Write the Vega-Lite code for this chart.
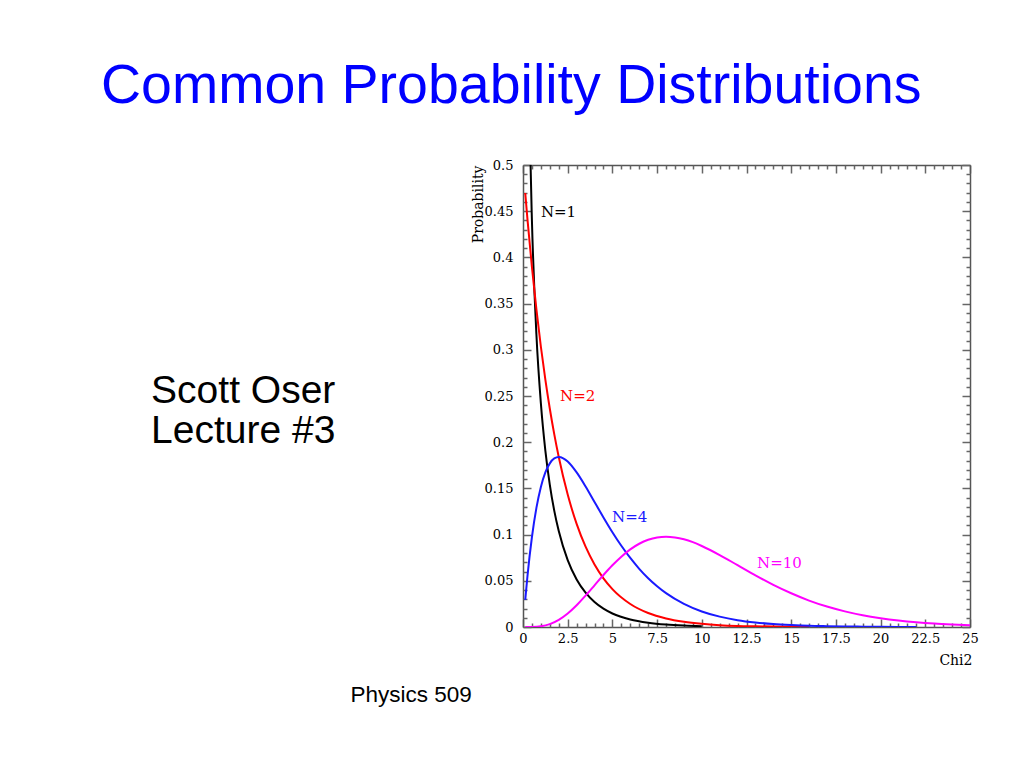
{
  "$schema": "https://vega.github.io/schema/vega-lite/v6.json",
  "width": 447,
  "height": 462,
  "autosize": {"type": "none"},
  "padding": {"left": 523, "top": 165, "right": 50, "bottom": 139},
  "background": "white",
  "config": {"view": {"stroke": null}},
  "datasets": {
    "curves": [
      {"N": "N=1", "x": 0.25, "p": 0.704},
      {"N": "N=1", "x": 0.375, "p": 0.540},
      {"N": "N=1", "x": 0.5, "p": 0.4394},
      {"N": "N=1", "x": 0.75, "p": 0.3166},
      {"N": "N=1", "x": 1, "p": 0.242},
      {"N": "N=1", "x": 1.25, "p": 0.191},
      {"N": "N=1", "x": 1.5, "p": 0.1539},
      {"N": "N=1", "x": 1.75, "p": 0.1257},
      {"N": "N=1", "x": 2, "p": 0.1038},
      {"N": "N=1", "x": 2.5, "p": 0.0723},
      {"N": "N=1", "x": 3, "p": 0.0514},
      {"N": "N=1", "x": 3.5, "p": 0.0371},
      {"N": "N=1", "x": 4, "p": 0.027},
      {"N": "N=1", "x": 4.5, "p": 0.0198},
      {"N": "N=1", "x": 5, "p": 0.0146},
      {"N": "N=1", "x": 6, "p": 0.0081},
      {"N": "N=1", "x": 7, "p": 0.0046},
      {"N": "N=1", "x": 8, "p": 0.0026},
      {"N": "N=1", "x": 9, "p": 0.0015},
      {"N": "N=1", "x": 10, "p": 0.0009},
      {"N": "N=2", "x": 0.125, "p": 0.4697},
      {"N": "N=2", "x": 0.25, "p": 0.4412},
      {"N": "N=2", "x": 0.5, "p": 0.3894},
      {"N": "N=2", "x": 0.75, "p": 0.3437},
      {"N": "N=2", "x": 1, "p": 0.3033},
      {"N": "N=2", "x": 1.25, "p": 0.2677},
      {"N": "N=2", "x": 1.5, "p": 0.2362},
      {"N": "N=2", "x": 1.75, "p": 0.2085},
      {"N": "N=2", "x": 2, "p": 0.1839},
      {"N": "N=2", "x": 2.5, "p": 0.1433},
      {"N": "N=2", "x": 3, "p": 0.1116},
      {"N": "N=2", "x": 3.5, "p": 0.0869},
      {"N": "N=2", "x": 4, "p": 0.0677},
      {"N": "N=2", "x": 4.5, "p": 0.0527},
      {"N": "N=2", "x": 5, "p": 0.041},
      {"N": "N=2", "x": 6, "p": 0.0249},
      {"N": "N=2", "x": 7, "p": 0.0151},
      {"N": "N=2", "x": 8, "p": 0.0092},
      {"N": "N=2", "x": 9, "p": 0.0056},
      {"N": "N=2", "x": 10, "p": 0.0034},
      {"N": "N=2", "x": 11, "p": 0.002},
      {"N": "N=2", "x": 12, "p": 0.0012},
      {"N": "N=2", "x": 13, "p": 0.0008},
      {"N": "N=2", "x": 14, "p": 0.0005},
      {"N": "N=2", "x": 15, "p": 0.0003},
      {"N": "N=2", "x": 16, "p": 0.0002},
      {"N": "N=4", "x": 0.125, "p": 0.0294},
      {"N": "N=4", "x": 0.25, "p": 0.0552},
      {"N": "N=4", "x": 0.5, "p": 0.0974},
      {"N": "N=4", "x": 0.75, "p": 0.1289},
      {"N": "N=4", "x": 1, "p": 0.1516},
      {"N": "N=4", "x": 1.25, "p": 0.1673},
      {"N": "N=4", "x": 1.5, "p": 0.1771},
      {"N": "N=4", "x": 1.75, "p": 0.1824},
      {"N": "N=4", "x": 2, "p": 0.1839},
      {"N": "N=4", "x": 2.25, "p": 0.1826},
      {"N": "N=4", "x": 2.5, "p": 0.1791},
      {"N": "N=4", "x": 3, "p": 0.1673},
      {"N": "N=4", "x": 3.5, "p": 0.1521},
      {"N": "N=4", "x": 4, "p": 0.1353},
      {"N": "N=4", "x": 4.5, "p": 0.1186},
      {"N": "N=4", "x": 5, "p": 0.1026},
      {"N": "N=4", "x": 5.5, "p": 0.0879},
      {"N": "N=4", "x": 6, "p": 0.0747},
      {"N": "N=4", "x": 6.5, "p": 0.063},
      {"N": "N=4", "x": 7, "p": 0.0528},
      {"N": "N=4", "x": 7.5, "p": 0.0441},
      {"N": "N=4", "x": 8, "p": 0.0366},
      {"N": "N=4", "x": 9, "p": 0.025},
      {"N": "N=4", "x": 10, "p": 0.0168},
      {"N": "N=4", "x": 11, "p": 0.0112},
      {"N": "N=4", "x": 12, "p": 0.0074},
      {"N": "N=4", "x": 13, "p": 0.0049},
      {"N": "N=4", "x": 14, "p": 0.0032},
      {"N": "N=4", "x": 15, "p": 0.0021},
      {"N": "N=4", "x": 16, "p": 0.0013},
      {"N": "N=4", "x": 17, "p": 0.0009},
      {"N": "N=4", "x": 18, "p": 0.0006},
      {"N": "N=4", "x": 19, "p": 0.0004},
      {"N": "N=4", "x": 20, "p": 0.0002},
      {"N": "N=4", "x": 21, "p": 0.0001},
      {"N": "N=4", "x": 22, "p": 0.0001},
      {"N": "N=10", "x": 0.125, "p": 0},
      {"N": "N=10", "x": 0.5, "p": 0.0001},
      {"N": "N=10", "x": 1, "p": 0.0008},
      {"N": "N=10", "x": 1.5, "p": 0.0031},
      {"N": "N=10", "x": 2, "p": 0.0077},
      {"N": "N=10", "x": 2.5, "p": 0.0146},
      {"N": "N=10", "x": 3, "p": 0.0235},
      {"N": "N=10", "x": 3.5, "p": 0.034},
      {"N": "N=10", "x": 4, "p": 0.0451},
      {"N": "N=10", "x": 4.5, "p": 0.0563},
      {"N": "N=10", "x": 5, "p": 0.0668},
      {"N": "N=10", "x": 5.5, "p": 0.0761},
      {"N": "N=10", "x": 6, "p": 0.084},
      {"N": "N=10", "x": 6.5, "p": 0.0901},
      {"N": "N=10", "x": 7, "p": 0.0944},
      {"N": "N=10", "x": 7.5, "p": 0.0969},
      {"N": "N=10", "x": 8, "p": 0.0977},
      {"N": "N=10", "x": 8.5, "p": 0.0969},
      {"N": "N=10", "x": 9, "p": 0.0949},
      {"N": "N=10", "x": 9.5, "p": 0.0918},
      {"N": "N=10", "x": 10, "p": 0.0877},
      {"N": "N=10", "x": 11, "p": 0.0779},
      {"N": "N=10", "x": 12, "p": 0.0669},
      {"N": "N=10", "x": 13, "p": 0.0559},
      {"N": "N=10", "x": 14, "p": 0.0456},
      {"N": "N=10", "x": 15, "p": 0.0365},
      {"N": "N=10", "x": 16, "p": 0.0286},
      {"N": "N=10", "x": 17, "p": 0.0221},
      {"N": "N=10", "x": 18, "p": 0.0169},
      {"N": "N=10", "x": 19, "p": 0.0127},
      {"N": "N=10", "x": 20, "p": 0.0095},
      {"N": "N=10", "x": 21, "p": 0.007},
      {"N": "N=10", "x": 22, "p": 0.0051},
      {"N": "N=10", "x": 23, "p": 0.0037},
      {"N": "N=10", "x": 24, "p": 0.0027},
      {"N": "N=10", "x": 25, "p": 0.0019}
    ],
    "labels": [
      {"label": "N=1", "x": 1.0, "y": 0.449},
      {"label": "N=2", "x": 2.07, "y": 0.25},
      {"label": "N=4", "x": 4.98, "y": 0.119},
      {"label": "N=10", "x": 13.09, "y": 0.069}
    ]
  },
  "layer": [
    {
      "data": {"name": "curves"},
      "mark": {"type": "line", "clip": true, "strokeWidth": 2, "interpolate": "monotone"},
      "encoding": {
        "x": {
          "field": "x", "type": "quantitative",
          "scale": {"domain": [0, 25], "nice": false, "zero": false},
          "axis": {
            "orient": "bottom", "title": "Chi2",
            "values": [0, 2.5, 5, 7.5, 10, 12.5, 15, 17.5, 20, 22.5, 25],
            "labelExpr": "datum.value + ''", "ticks": false, "grid": false,
            "domain": true, "domainColor": "#555", "domainWidth": 1.5,
            "labelFont": "DejaVu Serif", "labelFontSize": 13, "labelColor": "#000",
            "labelPadding": 5, "labelFlush": false, "labelOverlap": false,
            "titleFont": "DejaVu Serif", "titleFontSize": 14, "titleFontWeight": "normal", "titleColor": "#000",
            "titleAnchor": "end", "titleAlign": "right", "titleBaseline": "middle",
            "titleX": 449, "titleY": 33
          }
        },
        "y": {
          "field": "p", "type": "quantitative",
          "scale": {"domain": [0, 0.5], "nice": false},
          "axis": {
            "orient": "left", "title": "Probability",
            "values": [0, 0.05, 0.1, 0.15, 0.2, 0.25, 0.3, 0.35, 0.4, 0.45, 0.5],
            "labelExpr": "datum.value + ''", "ticks": false, "grid": false,
            "domain": true, "domainColor": "#555", "domainWidth": 1.5,
            "labelFont": "DejaVu Serif", "labelFontSize": 13, "labelColor": "#000",
            "labelPadding": 10, "labelFlush": false, "labelOverlap": false,
            "titleFont": "DejaVu Serif", "titleFontSize": 14, "titleFontWeight": "normal", "titleColor": "#000",
            "titleAnchor": "end", "titleAngle": -90, "titleAlign": "right", "titleBaseline": "middle",
            "titleX": -45, "titleY": 0
          }
        },
        "color": {
          "field": "N", "type": "nominal",
          "scale": {"domain": ["N=1", "N=2", "N=4", "N=10"], "range": ["#000000", "#ff0000", "#1a1aff", "#ff00ff"]},
          "legend": null
        },
        "detail": {"field": "N"}
      }
    },
    {
      "data": {"name": "curves"},
      "mark": {"type": "line", "opacity": 0},
      "encoding": {
        "x": {"field": "x", "type": "quantitative",
          "axis": {"orient": "bottom", "title": null, "labels": false, "domain": false, "grid": false,
            "values": [0, 2.5, 5, 7.5, 10, 12.5, 15, 17.5, 20, 22.5, 25],
            "tickSize": -8, "tickColor": "#666", "tickWidth": 1.5}},
        "y": {"field": "p", "type": "quantitative",
          "axis": {"orient": "left", "title": null, "labels": false, "domain": false, "grid": false,
            "values": [0, 0.05, 0.1, 0.15, 0.2, 0.25, 0.3, 0.35, 0.4, 0.45, 0.5],
            "tickSize": -8, "tickColor": "#666", "tickWidth": 1.5}},
        "detail": {"field": "N"}
      }
    },
    {
      "data": {"name": "curves"},
      "mark": {"type": "line", "opacity": 0},
      "encoding": {
        "x": {"field": "x", "type": "quantitative",
          "axis": {"orient": "bottom", "title": null, "labels": false, "domain": false, "grid": false,
            "values": [0.5, 1, 1.5, 2, 3, 3.5, 4, 4.5, 5.5, 6, 6.5, 7, 8, 8.5, 9, 9.5, 10.5, 11, 11.5, 12, 13, 13.5, 14, 14.5, 15.5, 16, 16.5, 17, 18, 18.5, 19, 19.5, 20.5, 21, 21.5, 22, 23, 23.5, 24, 24.5],
            "tickSize": -4, "tickColor": "#666", "tickWidth": 1.5}},
        "y": {"field": "p", "type": "quantitative",
          "axis": {"orient": "left", "title": null, "labels": false, "domain": false, "grid": false,
            "values": [0.01, 0.02, 0.03, 0.04, 0.06, 0.07, 0.08, 0.09, 0.11, 0.12, 0.13, 0.14, 0.16, 0.17, 0.18, 0.19, 0.21, 0.22, 0.23, 0.24, 0.26, 0.27, 0.28, 0.29, 0.31, 0.32, 0.33, 0.34, 0.36, 0.37, 0.38, 0.39, 0.41, 0.42, 0.43, 0.44, 0.46, 0.47, 0.48, 0.49],
            "tickSize": -4, "tickColor": "#666", "tickWidth": 1.5}},
        "detail": {"field": "N"}
      }
    },
    {
      "data": {"name": "curves"},
      "mark": {"type": "line", "opacity": 0},
      "encoding": {
        "x": {"field": "x", "type": "quantitative",
          "axis": {"orient": "top", "title": null, "labels": false, "domain": true, "domainColor": "#555", "domainWidth": 1.5, "grid": false,
            "values": [0, 2.5, 5, 7.5, 10, 12.5, 15, 17.5, 20, 22.5, 25],
            "tickSize": -8, "tickColor": "#666", "tickWidth": 1.5}},
        "y": {"field": "p", "type": "quantitative",
          "axis": {"orient": "right", "title": null, "labels": false, "domain": true, "domainColor": "#555", "domainWidth": 1.5, "grid": false,
            "values": [0, 0.05, 0.1, 0.15, 0.2, 0.25, 0.3, 0.35, 0.4, 0.45, 0.5],
            "tickSize": -8, "tickColor": "#666", "tickWidth": 1.5}},
        "detail": {"field": "N"}
      }
    },
    {
      "data": {"name": "curves"},
      "mark": {"type": "line", "opacity": 0},
      "encoding": {
        "x": {"field": "x", "type": "quantitative",
          "axis": {"orient": "top", "title": null, "labels": false, "domain": false, "grid": false,
            "values": [0.5, 1, 1.5, 2, 3, 3.5, 4, 4.5, 5.5, 6, 6.5, 7, 8, 8.5, 9, 9.5, 10.5, 11, 11.5, 12, 13, 13.5, 14, 14.5, 15.5, 16, 16.5, 17, 18, 18.5, 19, 19.5, 20.5, 21, 21.5, 22, 23, 23.5, 24, 24.5],
            "tickSize": -4, "tickColor": "#666", "tickWidth": 1.5}},
        "y": {"field": "p", "type": "quantitative",
          "axis": {"orient": "right", "title": null, "labels": false, "domain": false, "grid": false,
            "values": [0.01, 0.02, 0.03, 0.04, 0.06, 0.07, 0.08, 0.09, 0.11, 0.12, 0.13, 0.14, 0.16, 0.17, 0.18, 0.19, 0.21, 0.22, 0.23, 0.24, 0.26, 0.27, 0.28, 0.29, 0.31, 0.32, 0.33, 0.34, 0.36, 0.37, 0.38, 0.39, 0.41, 0.42, 0.43, 0.44, 0.46, 0.47, 0.48, 0.49],
            "tickSize": -4, "tickColor": "#666", "tickWidth": 1.5}},
        "detail": {"field": "N"}
      }
    },
    {
      "data": {"name": "labels"},
      "mark": {"type": "text", "align": "left", "baseline": "middle", "font": "DejaVu Serif", "fontSize": 15},
      "encoding": {
        "x": {"field": "x", "type": "quantitative", "axis": null},
        "y": {"field": "y", "type": "quantitative", "axis": null},
        "text": {"field": "label"},
        "color": {"field": "label", "type": "nominal", "legend": null}
      }
    },
    {
      "data": {"values": [{"t": "Common Probability Distributions"}]},
      "mark": {"type": "text", "align": "left", "baseline": "alphabetic", "font": "Liberation Sans", "fontSize": 55.5, "color": "#0000ff"},
      "encoding": {
        "x": {"datum": -23.6, "type": "quantitative", "axis": null},
        "y": {"datum": 0.5671, "type": "quantitative", "axis": null},
        "text": {"field": "t"}
      }
    },
    {
      "data": {"values": [{"t": "Scott Oser\nLecture #3"}]},
      "mark": {"type": "text", "align": "left", "baseline": "alphabetic", "font": "Liberation Sans", "fontSize": 39, "lineHeight": 40, "color": "#000", "lineBreak": "\n"},
      "encoding": {
        "x": {"datum": -20.8, "type": "quantitative", "axis": null},
        "y": {"datum": 0.2424, "type": "quantitative", "axis": null},
        "text": {"field": "t"}
      }
    },
    {
      "data": {"values": [{"t": "Physics 509"}]},
      "mark": {"type": "text", "align": "left", "baseline": "alphabetic", "font": "Liberation Sans", "fontSize": 22.5, "color": "#000"},
      "encoding": {
        "x": {"datum": -9.65, "type": "quantitative", "axis": null},
        "y": {"datum": -0.0812, "type": "quantitative", "axis": null},
        "text": {"field": "t"}
      }
    }
  ],
  "resolve": {"axis": {"x": "independent", "y": "independent"}}
}
